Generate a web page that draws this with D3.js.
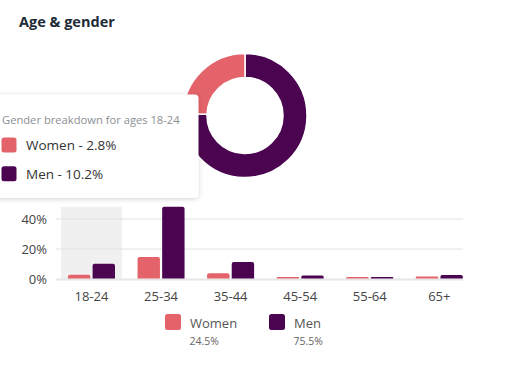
<!DOCTYPE html>
<html>
<head>
<meta charset="utf-8">
<script src="https://cdn.jsdelivr.net/npm/d3@7/dist/d3.min.js"></script>
<style>
  html, body { margin: 0; padding: 0; background: #fff; }
  svg { display: block; font-family: "Open Sans", "Noto Sans", sans-serif; }
</style>
</head>
<body>
<svg id="chart" width="515" height="390"></svg>
<script>
const ageGroups = ["18-24", "25-34", "35-44", "45-54", "55-64", "65+"];
const seriesNames = ["Women", "Men"];
const womenValues = [2.8, 14.7, 3.8, 1.0, 0.6, 1.6];
const menValues = [10.2, 48.2, 11.3, 2.4, 0.8, 2.6];
const totalShares = [24.5, 75.5];
const yTicks = [0, 20, 40];
const colors = ["#e4636a", "#4b0550"];
const highlighted = "18-24";

const svg = d3.select("#chart");

// Title
svg.append("text").attr("x", 19).attr("y", 27)
  .attr("font-size", 14.5).attr("font-weight", 700).attr("fill", "#1e2b37")
  .text("Age & gender");

// Donut (Men first clockwise from top, then Women)
const pieData = [{name: "Men", v: totalShares[1], c: colors[1]}, {name: "Women", v: totalShares[0], c: colors[0]}];
const pie = d3.pie().sort(null).value(d => d.v);
const arc = d3.arc().innerRadius(38).outerRadius(62);
svg.append("g").attr("transform", "translate(245,115.5)")
  .selectAll("path").data(pie(pieData)).join("path")
  .attr("d", arc).attr("fill", d => d.data.c)
  .attr("stroke", "#fff").attr("stroke-width", 1.5);

// Bar chart
const x = d3.scaleBand().domain(ageGroups).range([56.7, 474.1]).paddingInner(0).paddingOuter(0);
const y = d3.scaleLinear().domain([0, d3.max(menValues)]).range([279, 206.7]);
const gridRight = 463;

// highlight band
svg.append("rect")
  .attr("x", x(highlighted) + x.bandwidth() / 2 - 30.4).attr("width", 60.8)
  .attr("y", y.range()[1]).attr("height", y(0) - y.range()[1])
  .attr("fill", "#f0f0f0");

// gridlines
svg.append("g").selectAll("line").data(yTicks).join("line")
  .attr("x1", 56).attr("x2", gridRight)
  .attr("y1", d => d === 0 ? y(d) + 0.5 : y(d)).attr("y2", d => d === 0 ? y(d) + 0.5 : y(d))
  .attr("stroke", d => d === 0 ? "#e6e6e6" : "#e2e2e2").attr("stroke-width", d => d === 0 ? 2 : 1);

// y labels
svg.append("g").selectAll("text").data(yTicks).join("text")
  .attr("x", 47).attr("y", d => y(d) + 4.5).attr("text-anchor", "end")
  .attr("font-size", 13).attr("fill", "#444")
  .text(d => d + "%");

// bars
const sub = d3.scaleBand().domain(seriesNames).range([-23.5, 23.5]).paddingInner(0.09);
const barPath = (x0, w, yTop, yBot) => {
  const r = Math.min(2, (yBot - yTop) / 2);
  return `M${x0},${yBot}V${yTop + r}Q${x0},${yTop} ${x0 + r},${yTop}H${x0 + w - r}Q${x0 + w},${yTop} ${x0 + w},${yTop + r}V${yBot}Z`;
};
const barData = [];
ageGroups.forEach((g, i) => {
  barData.push({g, s: "Women", v: womenValues[i], c: colors[0]});
  barData.push({g, s: "Men", v: menValues[i], c: colors[1]});
});
const base = y(0) - 0.5;
svg.append("g").selectAll("path").data(barData).join("path")
  .attr("d", d => {
    const cx = x(d.g) + x.bandwidth() / 2;
    const top = Math.min(y(d.v), base - 1.6);
    return barPath(cx + sub(d.s), sub.bandwidth(), top, base);
  })
  .attr("fill", d => d.c);

// x labels
svg.append("g").selectAll("text").data(ageGroups).join("text")
  .attr("x", d => x(d) + x.bandwidth() / 2).attr("y", 301)
  .attr("text-anchor", "middle").attr("font-size", 13).attr("fill", "#444")
  .text(d => d);

// Legend
const legX = [165, 269];
seriesNames.forEach((s, i) => {
  const g = svg.append("g");
  g.append("rect").attr("x", legX[i]).attr("y", 314).attr("width", 16).attr("height", 16)
    .attr("rx", 2.5).attr("fill", colors[i]);
  g.append("text").attr("x", legX[i] + 25).attr("y", 327.5)
    .attr("font-size", 13).attr("fill", "#555").text(s);
  g.append("text").attr("x", legX[i] + 24.5).attr("y", 345)
    .attr("font-size", 10.5).attr("fill", "#666").text(totalShares[i].toFixed(1) + "%");
});

// Tooltip
const defs = svg.append("defs");
const f = defs.append("filter").attr("id", "shadow").attr("x", "-20%").attr("y", "-20%").attr("width", "140%").attr("height", "140%");
f.append("feDropShadow").attr("dx", 0).attr("dy", 1).attr("stdDeviation", 2.5)
  .attr("flood-color", "#000").attr("flood-opacity", 0.18);
const hi = ageGroups.indexOf(highlighted);
const tip = svg.append("g");
tip.append("rect").attr("x", -20).attr("y", 94.5).attr("width", 218.5).attr("height", 103.5)
  .attr("rx", 4).attr("fill", "#fff").attr("filter", "url(#shadow)");
tip.append("text").attr("x", 2).attr("y", 124).attr("font-size", 11.2).attr("fill", "#8a8f94")
  .text("Gender breakdown for ages " + highlighted);
const tipVals = [womenValues[hi], menValues[hi]];
seriesNames.forEach((s, i) => {
  const yy = 137.5 + i * 28.7;
  tip.append("rect").attr("x", 1.5).attr("y", yy).attr("width", 15).attr("height", 15)
    .attr("rx", 2.5).attr("fill", colors[i]);
  tip.append("text").attr("x", 26).attr("y", yy + 12.5).attr("font-size", 13.5).attr("fill", "#333")
    .text(s + " - " + tipVals[i].toFixed(1) + "%");
});
</script>
</body>
</html>
